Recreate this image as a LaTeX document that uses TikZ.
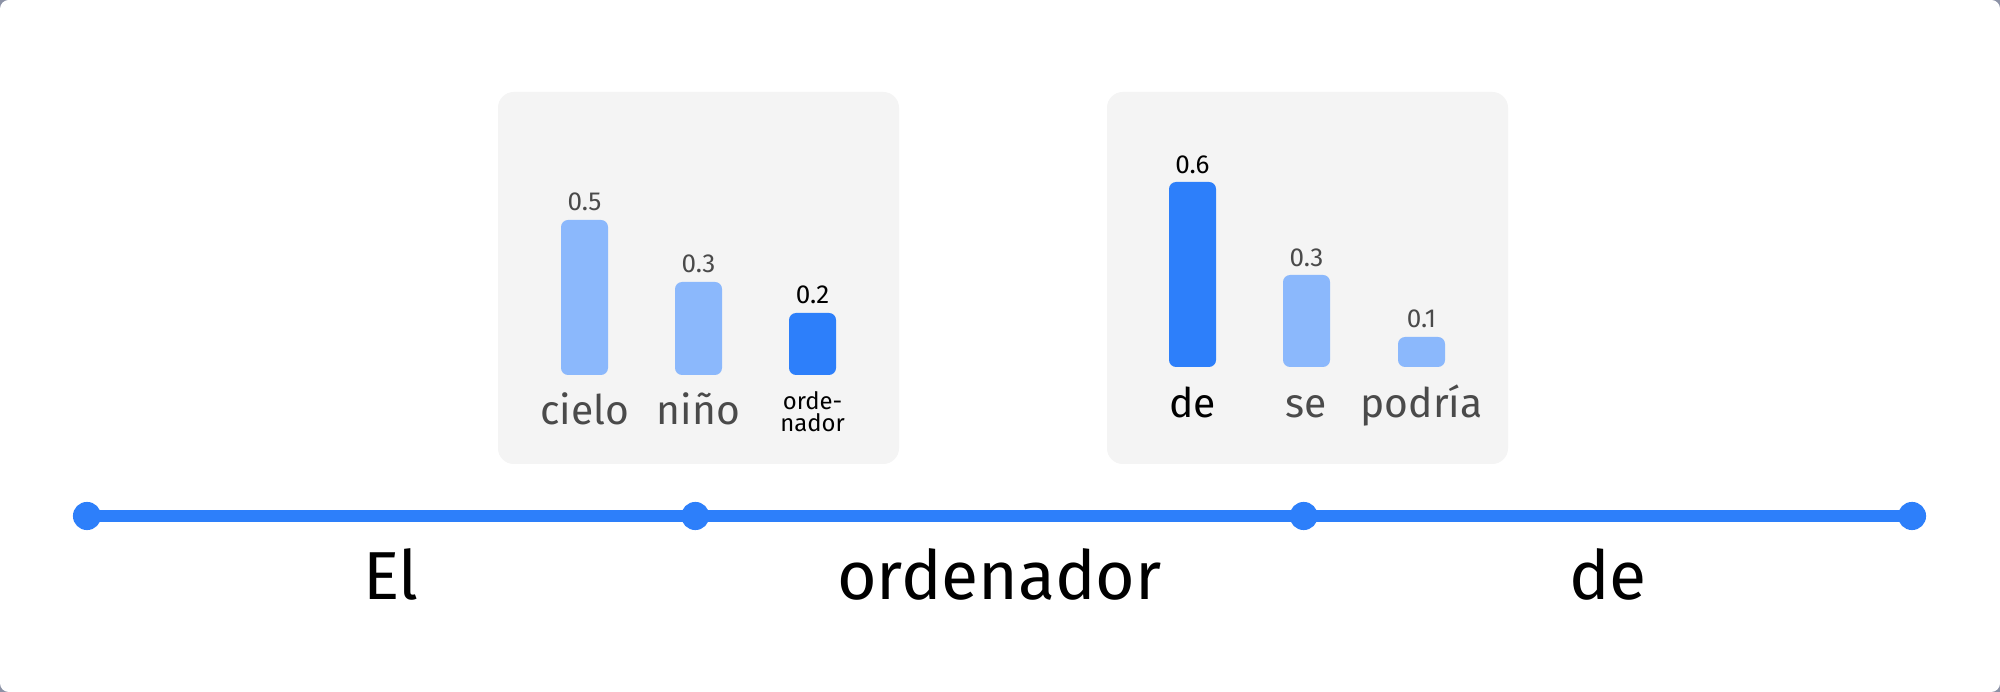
\documentclass[tikz,border=0pt]{standalone}
\usepackage{fontspec}
\setmainfont{Fira Sans}
\definecolor{strongblue}{RGB}{45,127,250}
\definecolor{paleblue}{RGB}{139,184,252}
\definecolor{panelgray}{RGB}{244,244,244}
\definecolor{textgray}{RGB}{74,74,74}
\definecolor{framegray}{RGB}{140,146,166}
\tikzset{
	panel/.style={fill=panelgray, rounded corners=4.5pt},
	bar/.style={rounded corners=2pt},
	value/.style={anchor=base, inner sep=0pt, font=\fontsize{7.4pt}{9pt}\selectfont},
	candidate/.style={anchor=base, inner sep=0pt, font=\fontsize{11.6pt}{14pt}\selectfont},
	token/.style={anchor=base, inner sep=0pt, font=\fontsize{19.3pt}{23pt}\selectfont},
	tick/.style={circle, fill=strongblue, inner sep=0pt, minimum size=8pt}
}
\begin{document}
\begin{tikzpicture}[x=0.01cm, y=-0.01cm]
		\useasboundingbox (0,0) rectangle (2000,692);
		% Draw frame.
		\fill[framegray] (0,0) rectangle (2000,692);
		\fill[white, rounded corners=2.5pt] (0,0) rectangle (2000,692);
		
		% Draw first panel.
		\fill[panel] (498,92) rectangle (899,464);
		\fill[bar, paleblue] (561,375) rectangle (608,220);
		\fill[bar, paleblue] (675,375) rectangle (722,282);
		\fill[bar, strongblue] (789,375) rectangle (836,313);
		\node[value, textgray] (v1) at (584.5,211) {0.5};
		\node[value, textgray] (v2) at (698.5,273) {0.3};
		\node[value] (v3) at (812.5,304) {0.2};
		\node[candidate, textgray] (w1) at (584.5,425) {cielo};
		\node[candidate, textgray] (w2) at (698.5,425) {niño};
		\node[value, font=\fontsize{6.8pt}{6.3pt}\selectfont, align=center] (w3) at (812.5,432) {orde-\\nador};
		
		% Draw second panel.
		\fill[panel] (1107,92) rectangle (1508,464);
		\fill[bar, strongblue] (1169,367) rectangle (1216,182);
		\fill[bar, paleblue] (1283,367) rectangle (1330,275);
		\fill[bar, paleblue] (1398,367) rectangle (1445,337);
		\node[value] (v4) at (1192.5,174) {0.6};
		\node[value, textgray] (v5) at (1306.5,267) {0.3};
		\node[value, textgray] (v6) at (1421.5,328) {0.1};
		\node[candidate] (w4) at (1192.5,418) {de};
		\node[candidate, textgray] (w5) at (1306.5,418) {se};
		\node[candidate, textgray] (w6) at (1421.5,418) {podría};
		
		% Draw timeline.
		\coordinate (t0) at (87,516);
		\coordinate (t1) at (695.3,516);
		\coordinate (t2) at (1303.7,516);
		\coordinate (t3) at (1912,516);
		\draw[strongblue, line width=3.4pt] (t0) -- (t3);
		\node[tick] (d0) at (t0) {};
		\node[tick] (d1) at (t1) {};
		\node[tick] (d2) at (t2) {};
		\node[tick] (d3) at (t3) {};
		
		% Draw tokens.
		\node[token] (el) at (391,600) {El};
		\node[token] (ordenador) at (999.5,600) {ordenador};
		\node[token] (de) at (1608,600) {de};
	\end{tikzpicture}
\end{document}
